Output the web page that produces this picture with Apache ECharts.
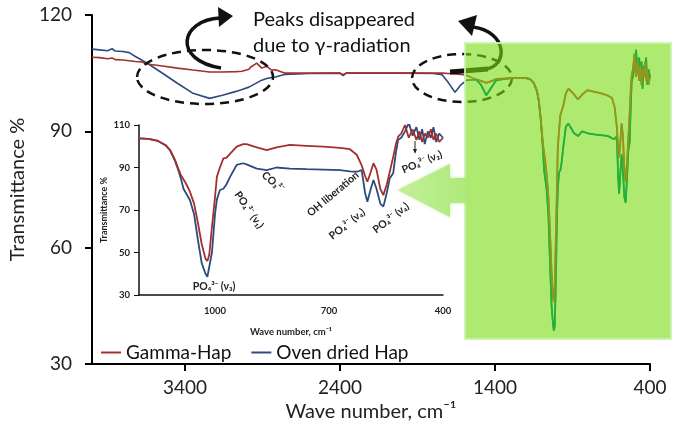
<!DOCTYPE html>
<html><head><meta charset="utf-8">
<script src="https://cdn.jsdelivr.net/npm/echarts@6/dist/echarts.min.js"></script>
<style>html,body{margin:0;padding:0;background:#fff}#c{width:674px;height:438px}</style>
</head><body><div id="c"></div>
<script>
// ---- data ----
const wavenumber = [
 4000,3950,3900,3870,3850,3800,3760,3720,3680,3633,
 3557,3449,3348,3241,3158,3070,3032,2987,2975,2937,
 2905,2873,2842,2817,2753,2600,2400,2380,2360,2200,
 2000,1800,1741,1700,1658,1620,1582,1520,1490,1456,
 1420,1392,1300,1250,1200,1175,1150,1130,1118,1105,
 1097,1090,1083,1075,1066,1055,1045,1035,1025,1020,
 1015,1008,1000,995,987,978,970,960,943,926,
 917,890,864,838,803,759,715,671,645,627,
 614,605,599,590,583,575,565,557,548,540,
 531,524,518,510,500,490,480,470,462,455,
 448,440,432,425,418,410,400
];
const gammaHap = [
 109.1,109.0,108.7,108.9,108.5,108.4,108.2,108.0,107.9,107.3,
 106.9,106.3,105.8,105.3,105.3,105.4,105.5,106.0,106.6,107.6,
 106.3,106.8,105.8,105.9,105.0,105.0,105.0,104.6,105.0,105.0,
 105.0,105.0,105.0,104.9,104.8,104.7,104.4,103.4,103.0,102.5,
 103.0,103.5,103.7,103.8,103.7,103.5,102.5,100.5,98.2,93.5,
 89.6,86.5,84.5,82.0,78.6,73.0,64.0,54.0,47.0,46.0,
 49.0,62.0,76.0,85.7,90.0,94.3,94.5,96.5,99.8,101.0,
 101.0,99.5,98.2,99.5,100.6,100.2,99.8,99.2,98.6,96.0,
 91.0,86.0,83.3,88.0,92.0,89.0,80.0,77.0,82.0,88.0,
 95.0,101.0,104.5,106.0,110.0,104.0,108.0,103.0,107.0,102.0,
 106.0,104.0,108.0,103.0,106.0,102.0,104.0
];
const ovenDriedHap = [
 111.2,111.0,110.8,111.3,110.7,110.6,110.3,109.3,108.4,107.3,
 105.3,102.4,99.8,98.5,99.3,100.3,100.8,101.4,101.7,102.5,
 103.2,103.6,103.9,104.0,104.7,104.9,105.0,104.4,105.0,105.0,
 105.0,104.9,104.6,102.5,100.1,102.0,103.2,103.3,102.0,99.3,
 101.5,103.2,103.7,103.8,103.7,103.5,102.5,100.5,98.0,93.0,
 89.0,85.0,80.0,77.5,74.7,68.0,56.0,45.0,40.0,38.6,
 39.5,50.0,68.0,75.0,79.4,80.0,82.0,85.7,91.2,92.0,
 91.5,89.5,88.8,90.0,89.5,89.2,89.0,88.8,88.2,88.0,
 88.8,78.0,73.9,80.0,84.1,80.0,73.0,71.6,78.0,85.0,
 87.3,97.0,103.0,104.0,107.0,111.0,105.0,109.0,103.0,108.0,
 101.0,107.0,104.0,109.0,102.0,106.0,104.0
];
const seriesNames = ['Gamma-Hap', 'Oven dried Hap'];
const mainXTicks = [3400, 2400, 1400, 400];
const insetXTicks = [1000, 700, 400];
const insetYTicks = [30, 50, 70, 90, 110];
const highlightFromW = 1563;   // green highlighted region starts here
const insetFromW = 1200;       // inset x range upper bound

function pairs(vals, keep) {
  return wavenumber.map((w, i) => [w, vals[i]]).filter(p => keep(p[0]));
}
const plain = v => String(v);

const FONT = 'Lato, "Open Sans", "DejaVu Sans", sans-serif';
const RED = '#a3302c', BLUE = '#2d4b7c', OLIVE = '#93981c', GREEN = '#1fb23a';
const chart = echarts.init(document.getElementById('c'));

const insetLbl = (text, x, y, deg) => ({
  type: 'text', x, y, rotation: deg * Math.PI / 180, z: 25,
  style: { text, fontFamily: FONT, fontWeight: 'bold', fontSize: 10.5, fill: '#222',
           align: 'center', verticalAlign: 'middle' }
});

chart.setOption({
  animation: false,
  textStyle: { fontFamily: FONT },
  grid: [
    { left: 80, top: 15, right: 24, bottom: 74 },
    { left: 139, top: 125, width: 304, height: 170 }
  ],
  legend: {
    data: seriesNames, left: 96, top: 338, icon: 'rect', itemWidth: 20, itemHeight: 2,
    itemGap: 20, textStyle: { fontSize: 19, color: '#111', fontFamily: FONT }
  },
  xAxis: [
    { gridIndex: 0, type: 'value', min: 400, max: 4000, inverse: true,
      axisLine: { lineStyle: { color: '#000', width: 2 } },
      axisTick: { show: true, customValues: mainXTicks, length: 7, lineStyle: { color: '#000', width: 2 } },
      axisLabel: { customValues: mainXTicks, formatter: plain, fontSize: 19, color: '#222', margin: 14, fontFamily: FONT },
      splitLine: { show: false },
      name: 'Wave number, cm⁻¹', nameLocation: 'middle', nameGap: 37,
      nameTextStyle: { fontSize: 20, color: '#222', fontFamily: FONT } },
    { gridIndex: 1, type: 'value', min: 400, max: insetFromW, inverse: true,
      axisLine: { lineStyle: { color: '#111', width: 1.5 } },
      axisTick: { show: false },
      axisLabel: { customValues: insetXTicks, formatter: plain, fontSize: 9.5, fontWeight: 'bold', color: '#222', margin: 11, fontFamily: FONT },
      splitLine: { show: false },
      name: 'Wave number, cm⁻¹', nameLocation: 'middle', nameGap: 32,
      nameTextStyle: { fontSize: 9.5, fontWeight: 'bold', color: '#222', fontFamily: FONT } },
  ],
  yAxis: [
    { gridIndex: 0, type: 'value', min: 30, max: 120, interval: 30,
      axisLine: { show: true, lineStyle: { color: '#000', width: 2 } },
      axisTick: { show: true, length: 7, lineStyle: { color: '#000', width: 2 } },
      axisLabel: { formatter: plain, fontSize: 19, color: '#222', margin: 20, fontFamily: FONT },
      splitLine: { show: false },
      name: 'Transmittance %', nameLocation: 'middle', nameGap: 46,
      nameTextStyle: { fontSize: 20, color: '#222', fontFamily: FONT } },
    { gridIndex: 1, type: 'value', min: 30, max: 110,
      axisLine: { show: true, lineStyle: { color: '#111', width: 1.5 } },
      axisTick: { show: true, customValues: insetYTicks, length: 5, lineStyle: { color: '#111' } },
      axisLabel: { customValues: insetYTicks, formatter: plain, fontSize: 9.5, fontWeight: 'bold', color: '#222', margin: 9, fontFamily: FONT },
      splitLine: { show: false },
      name: 'Transmittance %', nameLocation: 'middle', nameGap: 30,
      nameTextStyle: { fontSize: 9, fontWeight: 'bold', color: '#222', fontFamily: FONT } }
  ],
  series: [
    { name: seriesNames[1], type: 'line', xAxisIndex: 0, yAxisIndex: 0, symbol: 'none',
      data: pairs(ovenDriedHap, () => true), lineStyle: { color: BLUE, width: 1.6 }, itemStyle: { color: BLUE } },
    { name: seriesNames[0], type: 'line', xAxisIndex: 0, yAxisIndex: 0, symbol: 'none',
      data: pairs(gammaHap, () => true), lineStyle: { color: RED, width: 1.6 }, itemStyle: { color: RED } },
    { name: 'hl-oven', type: 'line', xAxisIndex: 0, yAxisIndex: 0, symbol: 'none', z: 20,
      data: pairs(ovenDriedHap, w => w <= highlightFromW), lineStyle: { color: GREEN, width: 1.8 } },
    { name: 'hl-gamma', type: 'line', xAxisIndex: 0, yAxisIndex: 0, symbol: 'none', z: 20,
      data: pairs(gammaHap, w => w <= highlightFromW), lineStyle: { color: OLIVE, width: 1.8 } },
    { name: seriesNames[1], type: 'line', xAxisIndex: 1, yAxisIndex: 1, symbol: 'none', z: 20,
      data: pairs(ovenDriedHap, w => w <= insetFromW), lineStyle: { color: BLUE, width: 1.8 } },
    { name: seriesNames[0], type: 'line', xAxisIndex: 1, yAxisIndex: 1, symbol: 'none', z: 20,
      data: pairs(gammaHap, w => w <= insetFromW), lineStyle: { color: RED, width: 1.8 } }
  ],
  graphic: [
    // dashed ellipses
    { type: 'ellipse', z: 5, shape: { cx: 205, cy: 77, rx: 68, ry: 27 },
      style: { fill: 'none', stroke: '#111', lineWidth: 2.5, lineDash: [9, 6] } },
    { type: 'ellipse', z: 5, shape: { cx: 462, cy: 78, rx: 50, ry: 24 },
      style: { fill: 'none', stroke: '#111', lineWidth: 2.5, lineDash: [9, 6] } },
    // left curved arrow
    { type: 'bezierCurve', z: 5, shape: { x1: 221, y1: 68, cpx1: 172, cpy1: 60, cpx2: 180, cpy2: 20, x2: 220, y2: 18 },
      style: { fill: 'none', stroke: '#111', lineWidth: 3.5 } },
    { type: 'polygon', z: 5, shape: { points: [[233, 16], [218, 7], [219, 27]] }, style: { fill: '#111' } },
    // right curved arrow
    { type: 'line', z: 5, shape: { x1: 450, y1: 72, x2: 488, y2: 69 }, style: { stroke: '#111', lineWidth: 5 } },
    { type: 'bezierCurve', z: 5, shape: { x1: 486, y1: 69, cpx1: 508, cpy1: 66, cpx2: 508, cpy2: 32, x2: 473, y2: 27 },
      style: { fill: 'none', stroke: '#111', lineWidth: 3.5 } },
    { type: 'polygon', z: 5, shape: { points: [[458, 21], [477, 15], [472, 36]] }, style: { fill: '#111' } },
    // green highlight box
    { type: 'rect', z: 10, shape: { x: 465, y: 43, width: 206, height: 296 },
      style: { fill: 'rgba(120,220,17,0.6)', stroke: 'rgba(205,242,175,0.9)', lineWidth: 2 } },
    // green arrow
    { type: 'polygon', z: 12,
      shape: { points: [[398, 190], [450, 164], [450, 178], [467, 178], [467, 203], [450, 203], [450, 217]] },
      style: { fill: new echarts.graphic.LinearGradient(0, 0, 1, 0, [
                 { offset: 0, color: '#c2ef9a' }, { offset: 1, color: '#aeea78' }]),
               shadowBlur: 3, shadowColor: 'rgba(150,220,100,0.6)' } },
    // annotation
    { type: 'text', z: 25, x: 253, y: 20,
      style: { text: 'Peaks disappeared', fontFamily: FONT, fontSize: 20, fill: '#111', align: 'left', verticalAlign: 'middle' } },
    { type: 'text', z: 25, x: 253, y: 46,
      style: { text: 'due to γ-radiation', fontFamily: FONT, fontSize: 20, fill: '#111', align: 'left', verticalAlign: 'middle' } },
    // inset band labels
    insetLbl('PO₄³⁻ (ν₃)', 214, 287, 0),
    insetLbl('PO₄³⁻ (ν₁)', 249, 210, -55),
    insetLbl('CO₃²⁻', 273, 182, -40),
    insetLbl('OH liberation', 333, 194, 40),
    insetLbl('PO₄³⁻ (ν₄)', 347, 224, 39),
    insetLbl('PO₄³⁻ (ν₄)', 391, 218, 38),
    insetLbl('PO₄³⁻ (ν₂)', 422, 162, 23),
    { type: 'line', z: 25, shape: { x1: 415, y1: 141, x2: 415, y2: 151 }, style: { stroke: '#222', lineWidth: 1 } },
    { type: 'polygon', z: 25, shape: { points: [[415, 154], [413, 149], [417, 149]] }, style: { fill: '#222' } }
  ]
});
</script>
</body></html>
